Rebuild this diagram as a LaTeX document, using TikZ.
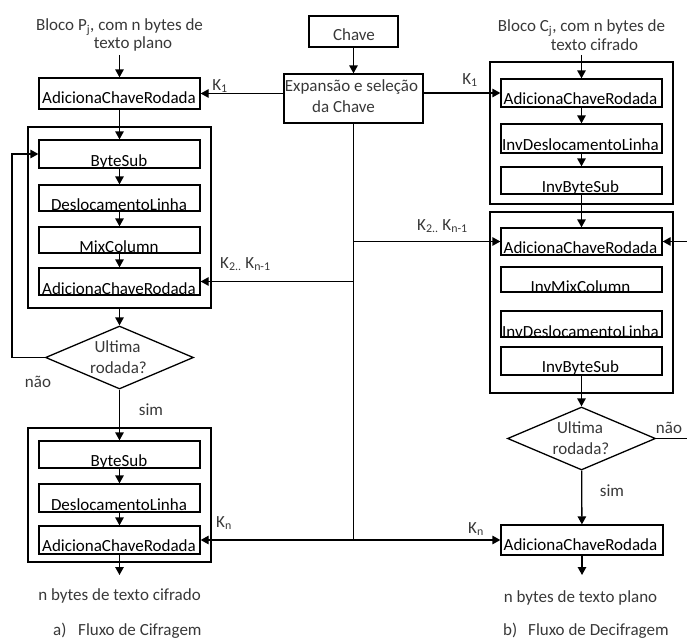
\documentclass[tikz,border=0pt]{standalone}
\usepackage{fontspec}
\setmainfont{Carlito}
\usetikzlibrary{arrows.meta,shapes.geometric}

\begin{document}
\begin{tikzpicture}[x=1pt,y=-1pt,
  every node/.style={font=\fontsize{17}{20}\selectfont},
  box/.style={draw, line width=1.3pt, inner sep=0pt, minimum width=161pt},
  frame/.style={draw, line width=1.3pt, inner sep=0pt, minimum width=183pt},
  dec/.style={draw, diamond, line width=1.3pt, inner sep=0pt, minimum width=148pt, minimum height=63pt},
  txt/.style={inner sep=0pt, anchor=base},
  note/.style={txt, text=black!78},
  notew/.style={inner sep=0pt, anchor=base west, text=black!78},
  flow/.style={line width=1.3pt, -{Triangle[length=8pt,width=8.5pt]}},
  wire/.style={line width=1.3pt}
]
\useasboundingbox (0,0) rectangle (687,642);
\clip (0,0) rectangle (687,642);

% ---------- key schedule ----------
\node[box, minimum width=89pt, minimum height=31pt] (chave) at (353.5,31.5) {};
\node[note] (tchave) at (354,40.5) {Chave};
\node[box, minimum width=139pt, minimum height=49pt] (exp) at (353.5,98.5) {};
\node[note] (texp1) at (351.5,91.5) {Expansão e seleção};
\node[note] (texp2) at (343.5,112.5) {da Chave};

% ---------- (a) encryption ----------
\node[note] (inL1) at (119.5,30.5) {Bloco P\textsubscript{j}, com n bytes de};
\node[note] (inL2) at (133,48.5) {texto plano};
\coordinate (inLa) at (119.5,55);

\node[box, minimum height=31pt] (acL1) at (119.5,93.5) {};
\node[txt] at (119,103) {AdicionaChaveRodada};

\node[frame, minimum height=181pt] (bigL1) at (119.5,217.5) {};
\node[box, minimum height=28pt] (bsL1) at (119.5,154) {};
\node[txt] at (119,166) {ByteSub};
\node[box, minimum height=26pt] (dlL1) at (119.5,198) {};
\node[txt] at (119,210) {DeslocamentoLinha};
\node[box, minimum height=26pt] (mcL) at (119.5,240) {};
\node[txt] at (119,252) {MixColumn};
\node[box, minimum height=27pt] (acL2) at (119.5,281.5) {};
\node[txt] at (119,294) {AdicionaChaveRodada};

\node[dec] (dL) at (119.5,357.5) {};
\node[note] at (117.5,352) {Ultima};
\node[note] at (118.5,373) {rodada?};
\coordinate (loopL) at (12,357.5);
\node[note] (naoL) at (38,387) {não};
\node[note] (simL) at (151,415) {sim};

\node[frame, minimum height=134pt] (bigL3) at (119.5,495) {};
\node[box, minimum height=27pt] (bsL3) at (119.5,454.5) {};
\node[txt] at (119,466) {ByteSub};
\node[box, minimum height=28pt] (dlL3) at (119.5,498) {};
\node[txt] at (119,510) {DeslocamentoLinha};
\node[box, minimum height=28pt] (acL3) at (119.5,540) {};
\node[txt] at (119,551) {AdicionaChaveRodada};
\coordinate (outL) at (119.5,575);
\node[note] (toutL) at (119.5,600) {n bytes de texto cifrado};

\node[notew] (capLa) at (53,635) {a)};
\node[notew] (capLb) at (78,635) {Fluxo de Cifragem};

% ---------- (b) decryption ----------
\node[note] (inR1) at (581.5,32) {Bloco C\textsubscript{j}, com n bytes de};
\node[note] (inR2) at (594.5,50) {texto cifrado};
\coordinate (inRa) at (581.5,55);

\node[frame, minimum height=142pt] (bigR1) at (581.5,133) {};
\node[box, minimum height=28pt] (acR1) at (581.5,93) {};
\node[txt] at (580.5,104) {AdicionaChaveRodada};
\node[box, minimum height=29pt] (idR1) at (581.5,138.5) {};
\node[txt] at (580.5,150) {InvDeslocamentoLinha};
\node[box, minimum height=27pt] (ibR1) at (581.5,180.5) {};
\node[txt] at (580.5,192) {InvByteSub};

\node[frame, minimum height=181pt] (bigR2) at (581.5,302.5) {};
\node[box, minimum height=27pt] (acR2) at (581.5,241.5) {};
\node[txt] at (580.5,253) {AdicionaChaveRodada};
\node[box, minimum height=25pt] (imR) at (581.5,279.5) {};
\node[txt] at (580.5,292) {InvMixColumn};
\node[box, minimum height=26pt] (idR2) at (581.5,324) {};
\node[txt] at (580.5,337) {InvDeslocamentoLinha};
\node[box, minimum height=28pt] (ibR2) at (581.5,361) {};
\node[txt] at (580.5,372) {InvByteSub};

\node[dec] (dR) at (581.5,438.5) {};
\node[note] at (580,433) {Ultima};
\node[note] at (581,454) {rodada?};
\coordinate (loopR) at (700,438.5);
\node[note] (naoR) at (669,433) {não};
\node[note] (simR) at (612,496) {sim};

\node[box, minimum width=162pt, minimum height=30pt] (acF) at (582,540) {};
\node[txt] at (580.5,550) {AdicionaChaveRodada};
\coordinate (outR) at (582,575);
\node[note] (toutR) at (580.5,602) {n bytes de texto plano};

\node[notew] (capRa) at (503,635) {b)};
\node[notew] (capRb) at (528,635) {Fluxo de Decifragem};

% ---------- round keys ----------
\node[note] (k1L) at (220,90) {K\textsubscript{1}};
\node[note] (k1R) at (470,84) {K\textsubscript{1}};
\node[notew] (k2L) at (220,268) {K\textsubscript{2..} K\textsubscript{n-1}};
\node[notew] (k2R) at (417,230) {K\textsubscript{2..} K\textsubscript{n-1}};
\node[note] (knL) at (224,527) {K\textsubscript{n}};
\node[note] (knR) at (476,533) {K\textsubscript{n}};

% ---------- connectors ----------
\draw[flow] (chave) -- (exp);
\draw[wire] (exp.south) -- (exp.south |- acF.west);
\draw[flow] (exp.west |- acL1.east) -- (acL1.east);
\draw[flow] (exp.east |- acR1.west) -- (acR1.west);
\draw[flow] (exp.south |- acL2.east) -- (acL2.east);
\draw[flow] (exp.south |- acR2.west) -- (acR2.west);
\draw[flow] (exp.south |- acL3.east) -- (acL3.east);
\draw[flow] (exp.south |- acF.west) -- (acF.west);

\draw[flow] (inLa) -- (acL1);
\draw[flow] (acL1) -- (bsL1);
\draw[flow] (bsL1) -- (dlL1);
\draw[flow] (dlL1) -- (mcL);
\draw[flow] (mcL) -- (acL2);
\draw[flow] (bigL1) -- (dL);
\draw[flow] (dL.west) -- (loopL) |- (bsL1.west);
\draw[flow] (dL) -- (bsL3);
\draw[flow] (bsL3) -- (dlL3);
\draw[flow] (dlL3) -- (acL3);
\draw[flow] (acL3) -- (outL);

\draw[flow] (inRa) -- (acR1);
\draw[flow] (acR1) -- (idR1);
\draw[flow] (idR1) -- (ibR1);
\draw[flow] (ibR1) -- (acR2);
\draw[flow] (ibR2) -- (dR);
\draw[flow] (dR.east) -- (loopR) |- (acR2.east);
\draw[flow] (dR) -- (acF);
\draw[flow] (acF) -- (outR);
\end{tikzpicture}
\end{document}
